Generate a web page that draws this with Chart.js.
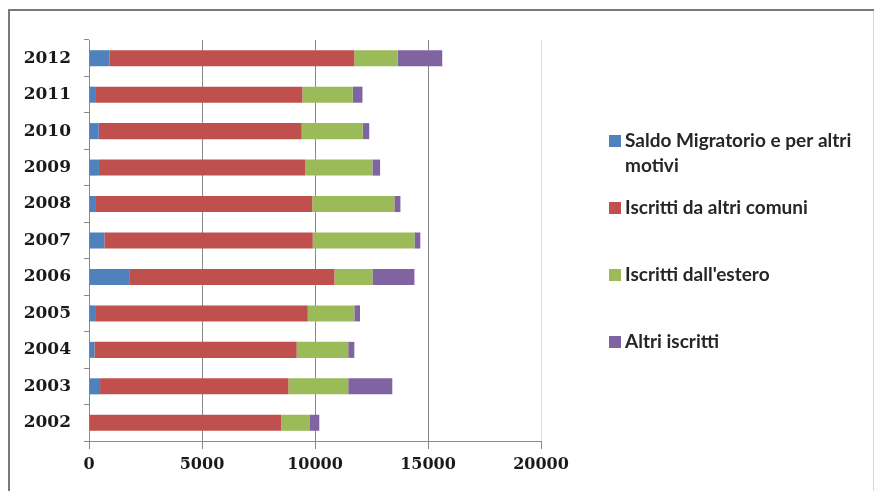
<!DOCTYPE html>
<html>
<head>
<meta charset="utf-8">
<script src="https://cdn.jsdelivr.net/npm/chart.js@4/dist/chart.umd.min.js"></script>
<style>
  html, body { margin: 0; padding: 0; background: #ffffff; }
  #wrap { position: relative; width: 879px; height: 491px; }
</style>
</head>
<body>
<div id="wrap"><canvas id="c" width="879" height="491"></canvas></div>
<script>
// Anni (categorie dell'asse verticale, dal basso verso l'alto)
const anni = ['2002', '2003', '2004', '2005', '2006', '2007', '2008', '2009', '2010', '2011', '2012'];

// Serie (valori per anno)
const saldoMigratorio = [0, 490, 240, 270, 1810, 680, 270, 440, 430, 270, 900];
const iscrittiAltriComuni = [8500, 8330, 8950, 9410, 9050, 9220, 9610, 9120, 8980, 9170, 10840];
const iscrittiEstero = [1250, 2650, 2280, 2060, 1680, 4500, 3630, 2980, 2700, 2230, 1920];
const altriIscritti = [440, 1950, 270, 250, 1860, 260, 270, 340, 290, 430, 1970];

// Etichette della legenda
const nomiSerie = [
  ['Saldo Migratorio e per altri', 'motivi'],
  ['Iscritti da altri comuni'],
  ["Iscritti dall'estero"],
  ['Altri iscritti']
];

// Tacche dell'asse orizzontale
const tickValori = [0, 5000, 10000, 15000, 20000];

const colori = ['#4F81BD', '#C0504D', '#9BBB59', '#8064A2'];
const serie = [saldoMigratorio, iscrittiAltriComuni, iscrittiEstero, altriIscritti];

// Cornice esterna e legenda disegnate a mano
const cornice = {
  id: 'cornice',
  beforeDraw(chart) {
    const ctx = chart.ctx;
    ctx.save();
    ctx.fillStyle = '#ffffff';
    ctx.fillRect(0, 0, chart.width, chart.height);
    ctx.strokeStyle = '#d8d8d8';
    ctx.lineWidth = 1;
    ctx.beginPath();
    ctx.moveTo(873.5, 10);
    ctx.lineTo(873.5, 491);
    ctx.stroke();
    ctx.strokeStyle = '#7a7a7a';
    ctx.lineWidth = 2;
    ctx.beginPath();
    ctx.moveTo(9, 491);
    ctx.lineTo(9, 10);
    ctx.lineTo(874, 10);
    ctx.stroke();
    ctx.restore();
  }
};

const legenda = {
  id: 'legendaDestra',
  afterDraw(chart) {
    const ctx = chart.ctx;
    ctx.save();
    ctx.font = 'bold 19px Lato';
    ctx.textBaseline = 'middle';
    const x0 = 609, testoX = 625, y0 = 141, passo = 67, riga = 25;
    chart.data.datasets.forEach((ds, i) => {
      const y = y0 + i * passo;
      ctx.fillStyle = ds.backgroundColor;
      ctx.fillRect(x0, y - 6, 12, 12);
      ctx.fillStyle = '#262626';
      nomiSerie[i].forEach((linea, k) => {
        ctx.fillText(linea, testoX, y + k * riga);
      });
    });
    ctx.restore();
  }
};

new Chart(document.getElementById('c'), {
  type: 'bar',
  data: {
    labels: anni,
    datasets: serie.map((valori, i) => ({
      label: nomiSerie[i].join(' '),
      data: valori,
      backgroundColor: colori[i],
      borderWidth: 0,
      barPercentage: 0.44,
      categoryPercentage: 1
    }))
  },
  options: {
    indexAxis: 'y',
    responsive: false,
    animation: false,
    devicePixelRatio: 1,
    layout: { padding: { top: 40, right: 338, left: 0, bottom: 0 } },
    plugins: {
      legend: { display: false },
      tooltip: { enabled: false }
    },
    scales: {
      x: {
        stacked: true,
        min: 0,
        max: 20000,
        afterBuildTicks(scale) {
          scale.ticks = tickValori.map(v => ({ value: v }));
        },
        afterFit(scale) { scale.height = 50; },
        grid: {
          color: ctx => (ctx.tick && ctx.tick.value === 20000) ? '#dcdcdc' : '#8a8a8a',
          lineWidth: 1,
          drawTicks: true,
          tickLength: 8,
          tickColor: '#8a8a8a'
        },
        border: { display: true, color: '#8a8a8a' },
        ticks: {
          padding: 6,
          color: '#1a1a1a',
          font: { family: 'DejaVu Serif', size: 16, weight: 'bold' },
          callback: v => String(v)
        }
      },
      y: {
        stacked: true,
        reverse: true,
        afterFit(scale) { scale.width = 89; },
        grid: {
          offset: true,
          drawOnChartArea: false,
          drawTicks: true,
          tickLength: 5,
          color: '#8a8a8a'
        },
        border: { display: true, color: '#8a8a8a' },
        ticks: {
          padding: 13,
          color: '#1a1a1a',
          font: { family: 'DejaVu Serif', size: 17, weight: 'bold' }
        }
      }
    }
  },
  plugins: [cornice, legenda]
});
</script>
</body>
</html>
